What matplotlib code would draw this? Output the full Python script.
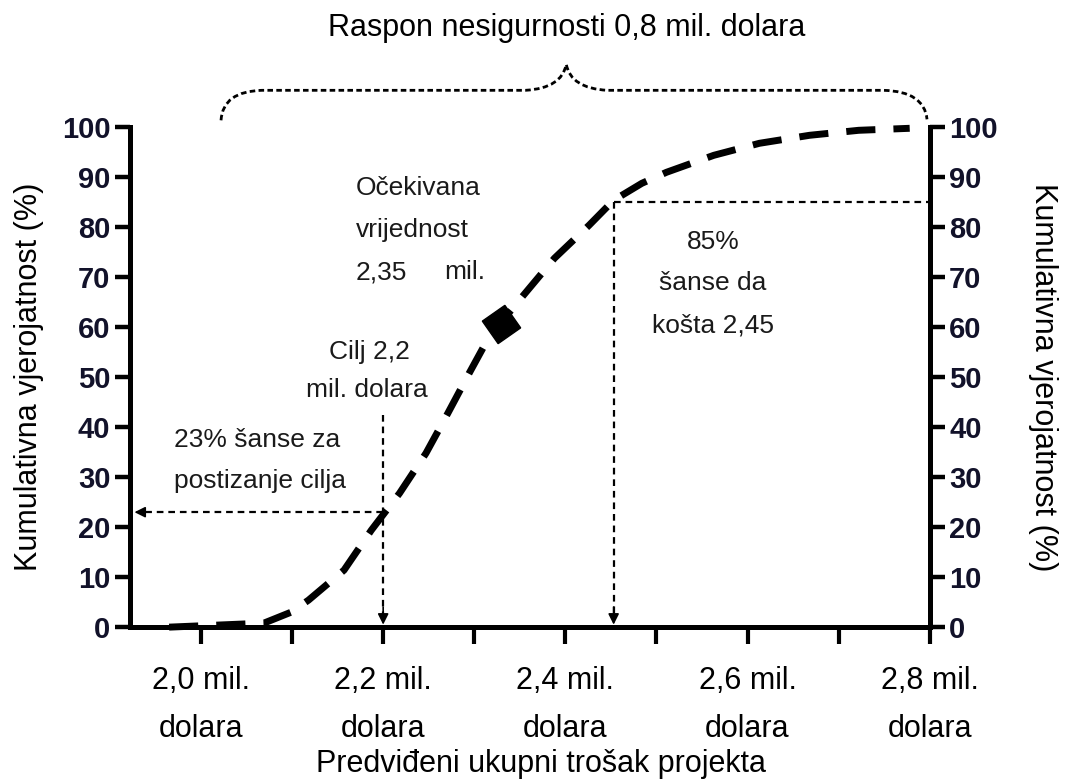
import matplotlib.pyplot as plt
from matplotlib.path import Path
from matplotlib.patches import PathPatch

# == Cumulative probability curve == #
cost = [1.965, 2.069, 2.099, 2.118, 2.157, 2.187, 2.218, 2.247, 2.271, 2.295, 2.316,
        2.354, 2.388, 2.426, 2.453, 2.484, 2.511, 2.563, 2.613, 2.668, 2.722, 2.778]
prob = [0, 0.8, 3.0, 5.4, 11.4, 19.4, 26.8, 34.8, 42.8, 51.0, 58.0,
        66.4, 73.8, 80.4, 85.4, 88.8, 91.0, 94.4, 96.8, 98.4, 99.4, 99.8]

# == Marked points == #
expected_cost, expected_prob = 2.329, 60.6
target_cost, target_prob = 2.2, 23
p85_cost, p85_prob = 2.453, 85

# == Axes ticks and labels == #
x_ticks = [2.0, 2.1, 2.2, 2.3, 2.4, 2.5, 2.6, 2.7, 2.8]
x_labels = ["2,0 mil.\ndolara", "", "2,2 mil.\ndolara", "", "2,4 mil.\ndolara", "",
            "2,6 mil.\ndolara", "", "2,8 mil.\ndolara"]
y_ticks = [0, 10, 20, 30, 40, 50, 60, 70, 80, 90, 100]

# == Uncertainty range brace (0,8 mil.) == #
brace_low, brace_tip, brace_high = 2.022, 2.401, 2.797

font = ["Liberation Sans", "DejaVu Sans"]
tick_col = "#12122a"

fig = plt.figure(figsize=(10.65, 7.81), dpi=100)
ax = fig.add_axes([0.122, 0.197, 0.751, 0.640])
ax2 = ax.twinx()

ax.set_xlim(1.922, 2.8)
ax.set_ylim(0, 100)
ax2.set_ylim(0, 100)

for a in (ax, ax2):
    a.spines["top"].set_visible(False)
    for s in a.spines.values():
        s.set_linewidth(3.6)
ax.spines["right"].set_visible(False)
ax2.spines["left"].set_visible(False)
ax2.spines["bottom"].set_visible(False)

ax.set_xticks(x_ticks)
ax.set_xticklabels(x_labels, family=font, fontsize=22)
for t in ax.get_xticklabels():
    t.set_linespacing(1.8)
ax.tick_params(axis="x", length=12, width=3, pad=16)

ax.set_yticks(y_ticks)
ax.set_yticklabels([str(v) for v in y_ticks], family=font, fontsize=21,
                   fontweight="bold", color=tick_col)
ax.tick_params(axis="y", length=11, width=3.2, pad=3)
ax2.set_yticks(y_ticks)
ax2.set_yticklabels([str(v) for v in y_ticks], family=font, fontsize=21,
                    fontweight="bold", color=tick_col)
ax2.tick_params(axis="y", length=11, width=3.2, pad=3)

ax.set_ylabel("Kumulativna vjerojatnost (%)", family=font, fontsize=22, labelpad=13)
ax2.set_ylabel("Kumulativna vjerojatnost (%)", family=font, fontsize=22,
               rotation=270, labelpad=43)

fig.text(0.508, 0.022, "Predviđeni ukupni trošak projekta", family=font,
         fontsize=22, ha="center", va="center")
fig.text(0.532, 0.964, "Raspon nesigurnosti 0,8 mil. dolara", family=font,
         fontsize=22, ha="center", va="center")

# the curve
ax.plot(cost, prob, color="black", lw=5, dashes=(4.2, 2.6), solid_capstyle="butt",
        clip_on=False, zorder=4)
ax.plot([expected_cost], [expected_prob], marker=(4, 0, -10), markersize=28,
        color="black", zorder=5)

# guide lines
guide = dict(color="black", lw=1.6, dashes=(3, 2.2), zorder=3)
ax.plot([target_cost, 1.936], [target_prob, target_prob], **guide)
ax.plot([target_cost, target_cost], [42.4, 1.5], **guide)
ax.plot([p85_cost, p85_cost], [p85_prob, 1.5], **guide)
ax.plot([p85_cost, 2.8], [p85_prob, p85_prob], **guide)
head = dict(arrowstyle="-|>", color="black", lw=1.2, mutation_scale=16,
            shrinkA=0, shrinkB=0)
ax.annotate("", xy=(1.927, target_prob), xytext=(1.945, target_prob),
            arrowprops=head, zorder=3)
ax.annotate("", xy=(target_cost, 0.5), xytext=(target_cost, 4), arrowprops=head, zorder=3)
ax.annotate("", xy=(p85_cost, 0.5), xytext=(p85_cost, 4), arrowprops=head, zorder=3)

# brace
verts = [(brace_low, 101.4), (brace_low + 0.002, 107.2), (brace_low + 0.045, 107.4),
         (brace_tip - 0.045, 107.4), (brace_tip - 0.005, 107.8), (brace_tip, 112.6),
         (brace_tip + 0.005, 107.8), (brace_tip + 0.045, 107.4),
         (brace_high - 0.048, 107.4), (brace_high - 0.003, 107.2), (brace_high, 101.6)]
codes = [Path.MOVETO, Path.CURVE3, Path.CURVE3, Path.LINETO, Path.CURVE3, Path.CURVE3,
         Path.CURVE3, Path.CURVE3, Path.LINETO, Path.CURVE3, Path.CURVE3]
ax.add_patch(PathPatch(Path(verts, codes), fill=False, lw=2, ls=(0, (2, 1.2)),
                       clip_on=False))

# annotations
note = dict(family=font, fontsize=19, color="#1a1a1a", va="center")
ax.text(2.170, 87.8, "Očekivana", **note)
ax.text(2.170, 79.4, "vrijednost", **note)
ax.text(2.170, 71.0, "2,35", **note)
ax.text(2.267, 71.0, "mil.", **note)
ax.text(2.185, 55.0, "Cilj 2,2", ha="center", **note)
ax.text(2.182, 47.4, "mil. dolara", ha="center", **note)
ax.text(1.970, 37.4, "23% šanse za", **note)
ax.text(1.970, 29.2, "postizanje cilja", **note)
ax.text(2.562, 77.0, "85%", ha="center", **note)
ax.text(2.562, 68.8, "šanse da", ha="center", **note)
ax.text(2.562, 60.4, "košta 2,45", ha="center", **note)

fig.savefig("out.png", dpi=100)
